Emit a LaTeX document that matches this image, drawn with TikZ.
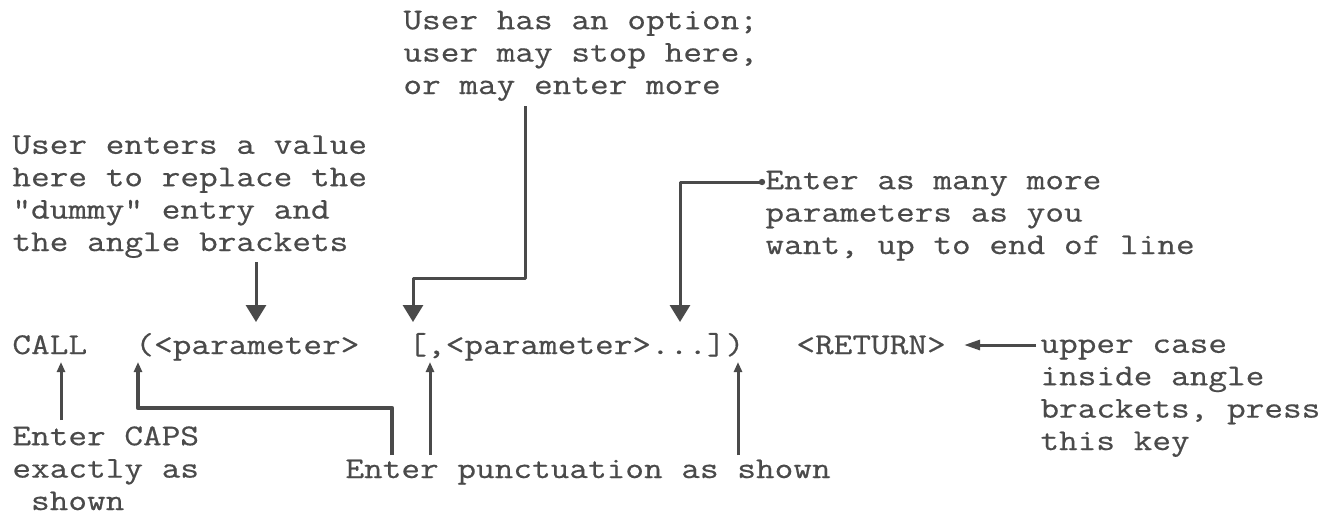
\documentclass[tikz,border=0pt]{standalone}
\usepackage{fontspec}
\setmonofont{Latin Modern Mono}[FakeStretch=1.2, FakeBold=0.5]
\usepackage{tikz}
\usetikzlibrary{arrows.meta, calc}
\definecolor{ink_gray}{HTML}{4A4A4A}

\begin{document}
\begin{tikzpicture}[
    x=0.5pt, y=-0.5pt,
    note/.style={anchor=base west, inner sep=0pt, align=left, text=ink_gray,
                 font=\ttfamily\fontsize{15.1}{16.2}\selectfont},
    lead/.style={ink_gray, line width=1.5pt, line join=round},
    bigtip/.style={-{Triangle[width=10pt, length=8.5pt]}},
    midtip/.style={-{Triangle[width=5pt, length=8pt]}},
    smalltip/.style={-{Triangle[width=4pt, length=5pt]}}
]
% Frame in pixel units: x right, y down, 1340 x 516
% (a note is placed by the baseline of its last line)
\useasboundingbox (0,0) rectangle (1340,516);

% Notes round the command line
\node[note] (optnote) at (403,94) {User has an option;\\user may stop here,\\or may enter more};
\node[note] (valnote) at (12,251) {User enters a value\\here to replace the\\"dummy" entry and\\the angle brackets};
\node[note] (morenote) at (765,254) {Enter as many more\\parameters as you\\want, up to end of line};
\node[note] (casenote) at (1040,450) {upper case\\inside angle\\brackets, press\\this key};
\node[note] (capsnote) at (12,510) {Enter CAPS\\exactly as\\~shown};
\node[note] (punctnote) at (345,478) {Enter punctuation as shown};

% The command line itself
\node[note] (call) at (12,354) {CALL};
\node[note] (first) at (135,354) {(<parameter>};
\node[note] (rest) at (408,354) {[,<parameter>...])};
\node[note] (ret) at (796,354) {<RETURN>};

% Arrow tips on the command line
\coordinate (brk) at ($(rest.base west)+(5,-32)$);
\coordinate (par) at ($(first.base west)+(121,-32)$);
\coordinate (dots) at ($(rest.base west)+(272,-32)$);

% Down arrows from the notes above
\draw[lead, bigtip] ($(optnote.base west)+(122,12)$) -- ++(0,172) -| (brk);
\draw[lead, bigtip] ($(valnote.base west)+(244,11)$) -- (par);
\fill[ink_gray] ($(morenote.base west)+(-3,-72)$) circle (1.6pt);
\draw[lead, bigtip] ($(morenote.base west)+(-3,-72)$) -| (dots);

% Arrow from the right note
\draw[lead, midtip] ($(casenote.west |- ret.base)+(-4,-9)$) -- ($(ret.base east)+(18,-9)$);

% Up arrows from the notes below
\draw[lead, smalltip] ($(capsnote.base west)+(49,-90)$) -- ($(call.base west)+(49,8)$);
\draw[lead, smalltip, line width=2.25pt] ($(punctnote.base west)+(47,-23)$) -- ++(0,-47)
    -| ($(first.base west)+(3,8)$);
\foreach \dx/\rx in {85/22, 393/330} {
    \draw[lead, smalltip] ($(punctnote.base west)+(\dx,-23)$) -- ($(rest.base west)+(\rx,8)$);
}

\end{tikzpicture}
\end{document}
